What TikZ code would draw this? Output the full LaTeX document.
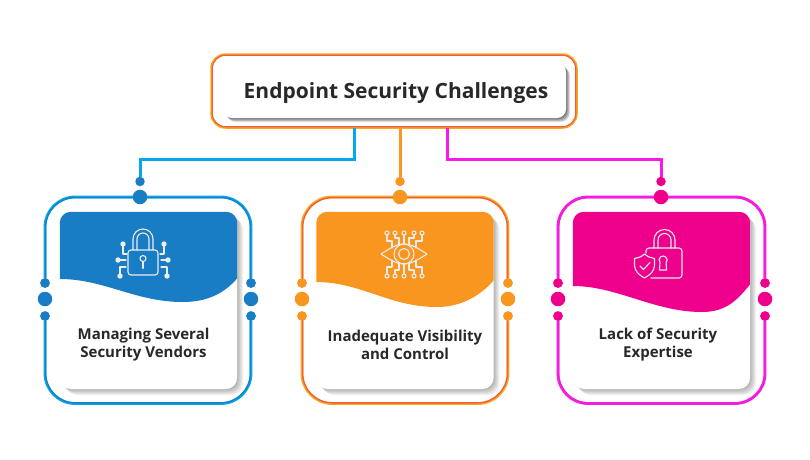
\documentclass[tikz,border=0pt]{standalone}
\usepackage{xcolor}
\usepackage{fontspec}
\setmainfont{Open Sans}
\usetikzlibrary{shadows,calc}
\definecolor{cardblue}{HTML}{187DC5}
\definecolor{cardorange}{HTML}{F9961F}
\definecolor{cardpink}{HTML}{EE008C}
\definecolor{edgeblue}{HTML}{06A6EA}
\definecolor{edgeorange}{HTML}{FBA81C}
\definecolor{edgepink}{HTML}{FB18EC}
\definecolor{liningblue}{HTML}{1880C9}
\definecolor{liningorange}{HTML}{EE5F3F}
\definecolor{liningpink}{HTML}{EE22CE}
\definecolor{inkdark}{HTML}{26282B}
\tikzset{
  softshadow/.style = {drop shadow={shadow xshift=#1pt, shadow yshift=-#1pt, fill=black, opacity=.1}},
  paleshadow/.style = {drop shadow={shadow xshift=#1pt, shadow yshift=-#1pt, fill=black, opacity=.05}},
  titlebox/.style   = {shape=rectangle, rounded corners=14, draw=edgeorange, line width=2.5,
                       minimum width=365, minimum height=73},
  titleline/.style  = {shape=rectangle, rounded corners=13.4, draw=liningorange, line width=1.2,
                       minimum width=363.6, minimum height=71.6},
  titlecard/.style  = {shape=rectangle, rounded corners=9, fill=white, minimum width=343,
                       minimum height=55,
                       softshadow=4, softshadow=3.4, softshadow=2.8, softshadow=2.2, softshadow=1.6, softshadow=1, softshadow=.5},
  titletext/.style  = {font=\fontsize{21}{26}\selectfont\bfseries, text=inkdark},
  cardbox/.style    = {shape=rectangle, rounded corners=11, fill=white, minimum size=177,
                       paleshadow=6, paleshadow=5, paleshadow=4, paleshadow=3, paleshadow=2, paleshadow=1},
  cardtext/.style   = {align=center, font=\fontsize{15}{18}\selectfont\bfseries, text=inkdark},
  frameline/.style  = {draw=#1, line width=2.8, rounded corners=30},
  framelining/.style = {draw=#1, line width=1.3, rounded corners=29.4},
  wire/.style       = {draw=#1, line width=3},
  bigdot/.style     = {circle, fill=#1, inner sep=0, minimum size=14.5},
  smalldot/.style   = {circle, fill=#1, inner sep=0, minimum size=9.5},
  icon/.style       = {draw=white!93!black, line width=1.1, line cap=round, line join=round},
  pin/.style        = {fill=white!93!black, draw=none}
}
\begin{document}
\begin{tikzpicture}[x=1pt, y=-1pt]
  \path[use as bounding box, fill=white] (0,0) rectangle (810,459);

  % title
  \node [titlebox] (title) at (394,91) {};
  \node [titleline] (titlerim) at (394,91) {};
  \node [titlecard] (titlein) at (394.5,90.5) {};
  \node [titletext] (titlelabel) at (396,93) {Endpoint Security Challenges};

  % the three cards
  \foreach \n/\cx/\tx/\tpx/\xl/\xr/\hue/\edge/\rim/\wl/\wx/\wy/\wr/\label in {
    1/148.5/143.5/140/45/251/cardblue/edgeblue/liningblue/-21.5/34.5/1.5/-22.5/{Managing Several\\Security Vendors},
    2/405/405/400/302/508/cardorange/edgeorange/liningorange/-18.5/32/6.5/-20.5/{Inadequate Visibility\\and Control},
    3/661.5/658/661/558/765/cardpink/edgepink/liningpink/-14.5/40.5/11.5/-16.5/{Lack of Security\\Expertise}}
  {
    \node [smalldot=\hue] (lu\n) at (\xl,283) {};
    \node [smalldot=\hue] (ld\n) at (\xl,316) {};
    \node [smalldot=\hue] (ru\n) at (\xr,283) {};
    \node [smalldot=\hue] (rd\n) at (\xr,316) {};
    \node [smalldot=\hue] (pin\n) at (\tpx,181.5) {};
    \coordinate (top\n) at (\tpx,197);
    \coordinate (bot\n) at (\tpx,403.5);
    \draw [frameline=\edge] (lu\n) |- (top\n) -| (ru\n);
    \draw [frameline=\edge] (ld\n) |- (bot\n) -| (rd\n);
    \draw [framelining=\rim] ([xshift=.65pt]lu\n.center) |- ([yshift=-.65pt]top\n) -| ([xshift=-.65pt]ru\n.center);
    \draw [framelining=\rim] ([xshift=.65pt]ld\n.center) |- ([yshift=.65pt]bot\n) -| ([xshift=-.65pt]rd\n.center);
    \node [bigdot=\hue]   (lm\n) at (\xl,299) {};
    \node [bigdot=\hue]   (rm\n) at (\xr,299) {};
    \node [bigdot=\hue]   (cap\n) at (top\n) {};
    \node [smalldot=\hue] at (lu\n) {};
    \node [smalldot=\hue] at (ld\n) {};
    \node [smalldot=\hue] at (ru\n) {};
    \node [smalldot=\hue] at (rd\n) {};
    \node [cardbox] (card\n) at (\cx,300.5) {};
    \begin{scope}
      \clip [rounded corners=11] (card\n.north west) rectangle (card\n.south east);
      \fill [\hue, shift={(\cx,300.5)}] (-89,-89) rectangle (89,-25)
        (-89,-30) -- (-89,\wl) .. controls (-44,\wl) and ({\wx-48},\wy) .. (\wx,\wy)
        .. controls ({\wx+26},\wy) and (77,{\wr+14}) .. (89,\wr) -- (89,-30) -- cycle;
    \end{scope}
    \node [cardtext] (text\n) at (\tx,344.5) {\label};
  }

  % connectors
  \coordinate (bluefoot) at (354,128);
  \coordinate (blueturn) at (140,159);
  \coordinate (pinkfoot) at (447,128);
  \coordinate (pinkturn) at (661,159);
  \draw [wire=edgeblue] (bluefoot) |- (blueturn) -- (pin1);
  \draw [wire=cardorange] (title.south -| pin2) -- (pin2);
  \draw [wire=edgepink] (pinkfoot) |- (pinkturn) -- (pin3);

  % lock with circuit
  \draw [icon, rounded corners=3] (128,250) rectangle (158,275);
  \draw [icon] (133,250) -- (133,239) arc[start angle=180, end angle=360, radius=10] -- (153,250);
  \draw [icon] (137,250) -- (137,239) arc[start angle=180, end angle=360, radius=6] -- (149,250);
  \draw [icon] (143,258.5) circle (3);
  \draw [icon, line width=2.2] (143,262) -- (143,268);
  \draw [icon] (123,244) -- (123,254) -- (127,254) (118,260) -- (126,260) (120,276) -- (120,267) -- (126,267);
  \draw [icon] (164,244) -- (164,254) -- (160,254) (168,260) -- (161,260) (167,276) -- (167,267) -- (161,267);
  \foreach \px/\py in {123/244, 118/260, 120/276, 164/244, 168/260, 167/276}
    \fill [pin] (\px,\py) circle (2.7);

  % eye with circuit
  \draw [icon] (381,254) .. controls (392,247) and (397,244) .. (404,244) .. controls (411,244) and (416,247) .. (427,254)
    .. controls (416,261) and (411,264) .. (404,264) .. controls (397,264) and (392,261) .. (381,254) -- cycle;
  \draw [icon] (404,254) circle (10) (404,254) circle (5.5);
  \draw [icon] (387,235) -- (387,241) -- (392,241) -- (392,248)
    (395,235) -- (395,238) -- (399,238) -- (399,245) (404,235) -- (404,244)
    (414,235) -- (414,238) -- (409,238) -- (409,245) (422,235) -- (422,241) -- (416,241) -- (416,248);
  \draw [icon] (387,274) -- (387,267) -- (392,267) -- (392,260)
    (395,274) -- (395,270) -- (399,270) -- (399,263) (404,274) -- (404,264)
    (414,274) -- (414,270) -- (409,270) -- (409,263) (422,274) -- (422,267) -- (416,267) -- (416,260);
  \foreach \px in {387,395,404,414,422}
    \draw [icon] (\px,233) circle (2) (\px,276) circle (2);

  % lock with shield
  \draw [icon, rounded corners=3] (646,253) -- (646,248) -- (682,248) -- (682,278) -- (651,278);
  \draw [icon] (654,248) -- (654,240) arc[start angle=180, end angle=360, radius=10.5] -- (675,248);
  \draw [icon] (658,248) -- (658,240) arc[start angle=180, end angle=360, radius=6.5] -- (671,248);
  \draw [icon] (660,262.5) arc[start angle=140, end angle=400, radius=4] -- (666.5,270) -- (659.5,270) -- cycle;
  \draw [icon] (644.5,254) .. controls (641,257) and (638,258) .. (634.5,258.5) -- (634.5,265)
    .. controls (634.5,271) and (639,275) .. (644.5,278) .. controls (650,275) and (654.5,271) .. (654.5,265)
    -- (654.5,258.5) .. controls (651,258) and (648,257) .. (644.5,254) -- cycle;
  \draw [icon] (640,266) -- (643.5,269.5) -- (650,262.5);
\end{tikzpicture}
\end{document}
